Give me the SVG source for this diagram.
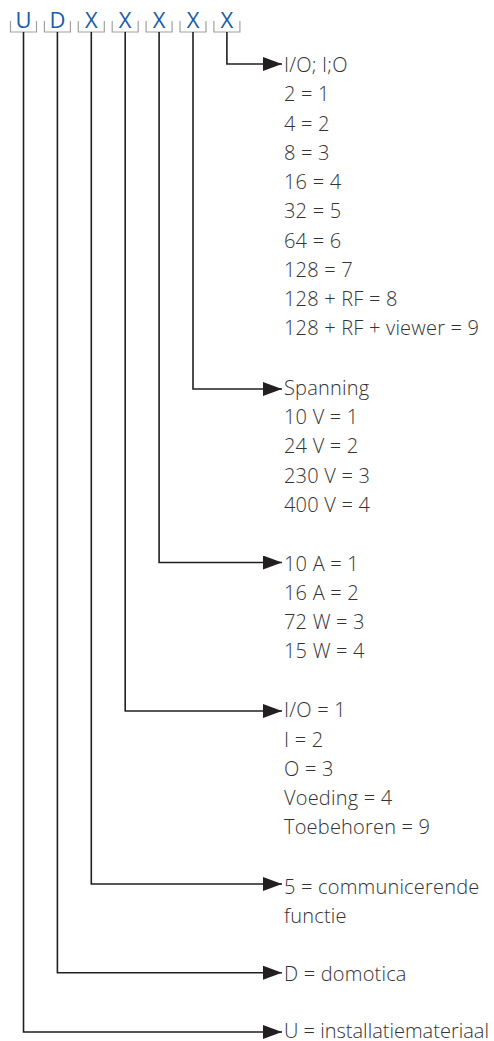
<svg xmlns="http://www.w3.org/2000/svg" width="494" height="1041" viewBox="0 0 494 1041">
<style>
.lt{font-family:"Open Sans","Noto Sans",sans-serif;font-size:22px;fill:#1b5ba8;text-anchor:middle}
.br{fill:none;stroke:#a0a0a0;stroke-width:1.2}
.t{font-family:"Open Sans","Noto Sans",sans-serif;font-size:20px;font-weight:300;letter-spacing:0.2px;fill:#333}
.c{fill:none;stroke:#231f20;stroke-width:1.6}
</style>
<defs>
<marker id="ah" markerWidth="20" markerHeight="14" refX="19" refY="7" orient="auto" markerUnits="userSpaceOnUse">
<path d="M0,0 L19,7 L0,14 Z" fill="#231f20"/>
</marker>
</defs>
<g id="letters">
<g id="n-U"><text class="lt" x="23.5" y="27.5">U</text><path class="br" d="M10.5,21 V32 H36.5 V21"/></g>
<g id="n-D"><text class="lt" x="57.4" y="27.5">D</text><path class="br" d="M44.4,21 V32 H70.4 V21"/></g>
<g id="n-X1"><text class="lt" x="91.3" y="27.5">X</text><path class="br" d="M78.3,21 V32 H104.3 V21"/></g>
<g id="n-X2"><text class="lt" x="125.2" y="27.5">X</text><path class="br" d="M112.2,21 V32 H138.2 V21"/></g>
<g id="n-X3"><text class="lt" x="159.1" y="27.5">X</text><path class="br" d="M146.1,21 V32 H172.1 V21"/></g>
<g id="n-X4"><text class="lt" x="193" y="27.5">X</text><path class="br" d="M180,21 V32 H206 V21"/></g>
<g id="n-X5"><text class="lt" x="226.9" y="27.5">X</text><path class="br" d="M213.9,21 V32 H239.9 V21"/></g>
</g>
<g id="connectors">
<path class="c" marker-end="url(#ah)" d="M226.9,32 V64 H282"/>
<path class="c" marker-end="url(#ah)" d="M193,32 V389 H282"/>
<path class="c" marker-end="url(#ah)" d="M159.1,32 V562.5 H282"/>
<path class="c" marker-end="url(#ah)" d="M125.2,32 V711 H282"/>
<path class="c" marker-end="url(#ah)" d="M91.3,32 V884 H282"/>
<path class="c" marker-end="url(#ah)" d="M57.4,32 V972.7 H282"/>
<path class="c" marker-end="url(#ah)" d="M23.5,32 V1032 H282"/>
</g>
<g id="t-X5">
<text class="t" x="284" y="72">I/O; I;O</text>
<text class="t" x="284" y="101.3">2 = 1</text>
<text class="t" x="284" y="130.5">4 = 2</text>
<text class="t" x="284" y="159.8">8 = 3</text>
<text class="t" x="284" y="189">16 = 4</text>
<text class="t" x="284" y="218.3">32 = 5</text>
<text class="t" x="284" y="247.5">64 = 6</text>
<text class="t" x="284" y="276.8">128 = 7</text>
<text class="t" x="284" y="306">128 + RF = 8</text>
<text class="t" x="284" y="335.3">128 + RF + viewer = 9</text>
</g>
<g id="t-X4">
<text class="t" x="284" y="395">Spanning</text>
<text class="t" x="284" y="424">10 V = 1</text>
<text class="t" x="284" y="453.3">24 V = 2</text>
<text class="t" x="284" y="482.7">230 V = 3</text>
<text class="t" x="284" y="511.7">400 V = 4</text>
</g>
<g id="t-X3">
<text class="t" x="284" y="570.7">10 A = 1</text>
<text class="t" x="284" y="600">16 A = 2</text>
<text class="t" x="284" y="629.3">72 W = 3</text>
<text class="t" x="284" y="658.3">15 W = 4</text>
</g>
<g id="t-X2">
<text class="t" x="284" y="717.3">I/O = 1</text>
<text class="t" x="284" y="746.7">I = 2</text>
<text class="t" x="284" y="775.5">O = 3</text>
<text class="t" x="284" y="804.7">Voeding = 4</text>
<text class="t" x="284" y="833.5">Toebehoren = 9</text>
</g>
<g id="t-X1">
<text class="t" x="284" y="894">5 = communicerende</text>
<text class="t" x="284" y="922.7">functie</text>
</g>
<g id="t-D"><text class="t" x="284" y="980.7">D = domotica</text></g>
<g id="t-U"><text class="t" x="284" y="1037.5" style="letter-spacing:0">U = installatiemateriaal</text></g>
</svg>
